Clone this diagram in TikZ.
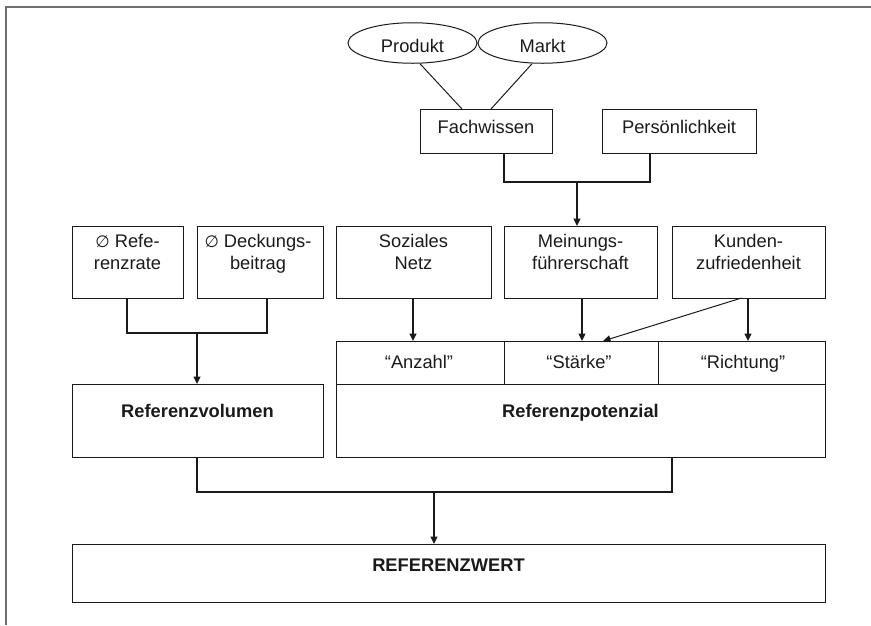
\documentclass[tikz,border=0pt]{standalone}
\usepackage{fontspec}
\setmainfont{Liberation Sans}
\newfontfamily\symfont{DejaVu Sans}
\usetikzlibrary{arrows.meta,shapes.geometric,calc}
\definecolor{framegray}{HTML}{6E6E6E}
\definecolor{ink}{HTML}{1A1A1A}
\newcommand\diagfont{\fontsize{18.3}{22.3}\selectfont}
\newcommand\avg{{\symfont\fontsize{16.5}{22.3}\selectfont ∅}}
\begin{document}
\begin{tikzpicture}[x=1pt,y=-1pt,
  box/.style={draw=ink,line width=1pt,anchor=north west,inner sep=0pt,outer sep=0pt},
  oval/.style={draw=ink,line width=1pt,ellipse,inner sep=0pt,minimum width=129pt,minimum height=40.5pt},
  lab/.style={font=\diagfont,align=center,inner sep=0pt,anchor=base,text=ink},
  labtwo/.style={font=\diagfont,align=center,inner sep=0pt,anchor=north,text=ink,execute at begin node=\strut},
  conn/.style={draw=ink,line width=1.5pt},
  thin/.style={draw=ink,line width=1pt},
  tip/.style={-{Triangle[length=7.5pt,width=7pt]}}]

\useasboundingbox (0,0) rectangle (871,625);

% page frame (top and left edge only)
\draw[framegray,line width=2pt] (6,625) -- (6,7) -- (871,7);

% knowledge sources
\node[oval] (prod) at (412.5,43) {};
\node[oval] (mark) at (542.5,43) {};
\node[lab] (prodt) at (412.5,52.7) {Produkt};
\node[lab] (markt) at (542.5,52.7) {Markt};

\node[box,minimum width=132pt,minimum height=44pt] (fach) at (420,109) {};
\node[box,minimum width=154pt,minimum height=44pt] (pers) at (602,109) {};
\node[lab] (facht) at (486,133.5) {Fachwissen};
\node[lab] (perst) at (679,133.5) {Persönlichkeit};

% determinants
\node[box,minimum width=111pt,minimum height=72pt] (rate) at (72,226) {};
\node[box,minimum width=126pt,minimum height=72pt] (deck) at (197,226) {};
\node[box,minimum width=155pt,minimum height=72pt] (soz) at (336,226) {};
\node[box,minimum width=153pt,minimum height=72pt] (mein) at (504,226) {};
\node[box,minimum width=153pt,minimum height=72pt] (kund) at (672,226) {};
\node[labtwo] (ratet) at (127.5,233.7) {\avg\ Refe-\\renzrate};
\node[labtwo] (deckt) at (258,233.7) {\avg\ Deckungs-\\beitrag};
\node[labtwo] (sozt) at (413.5,233.7) {Soziales\\Netz};
\node[labtwo] (meint) at (580.5,233.7) {Meinungs-\\führerschaft};
\node[labtwo] (kundt) at (748.5,233.7) {Kunden-\\zufriedenheit};

% dimensions of the referral potential
\node[box,minimum width=168pt,minimum height=43pt] (anz) at (336,341) {};
\node[box,minimum width=154pt,minimum height=43pt] (sta) at (504,341) {};
\node[box,minimum width=167pt,minimum height=43pt] (ric) at (658,341) {};
\node[lab] (anzt) at (419,368.3) {“Anzahl”};
\node[lab] (stat) at (579,368.3) {“Stärke”};
\node[lab] (rict) at (743,368.3) {“Richtung”};

% aggregates
\node[box,minimum width=251pt,minimum height=73pt] (vol) at (72,384) {};
\node[box,minimum width=489pt,minimum height=73pt] (pot) at (336,384) {};
\node[lab,font=\diagfont\bfseries] (volt) at (197.5,417.3) {Referenzvolumen};
\node[lab,font=\diagfont\bfseries] (pott) at (580.5,417.3) {Referenzpotenzial};

\node[box,minimum width=753pt,minimum height=58pt] (wert) at (72,544) {};
\node[lab,font=\diagfont\bfseries] (wertt) at (448.5,571.4) {REFERENZWERT};

% connectors
\draw[thin] ($(prod.south)+(7.5,0)$) -- ($(fach.north)+(-24,0)$);
\draw[thin] ($(mark.south)+(-10.5,0)$) -- ($(fach.north)+(5,0)$);

\coordinate (fp) at (577,182);
\draw[conn] ($(fach.south)+(18,0)$) -- ++(0,29) -| ($(pers.south)+(-29,0)$);
\draw[conn,tip] (fp) -- (fp |- mein.north);

\coordinate (rv) at (197,333);
\draw[conn] ($(rate.south)+(-0.5,0)$) -- ++(0,35) -| ($(deck.south)+(7,0)$);
\draw[conn,tip] (rv) -- (rv |- vol.north);

\coordinate (sz) at (413,298);
\draw[conn,tip] (sz) -- (sz |- anz.north);
\draw[conn,tip] ($(mein.south)+(1.5,0)$) -- ($(mein.south |- sta.north)+(1.5,0)$);
\coordinate (kd) at (748,298);
\draw[conn,tip] (kd) -- (kd |- ric.north);
\draw[thin,tip] ($(kund.south)+(-7,0)$) -- ($(sta.north)+(22,0)$);

\coordinate (vp) at (434,492);
\draw[conn] ($(vol.south)+(-0.5,0)$) -- ++(0,35) -| ($(pot.south)+(91.5,0)$);
\draw[conn,tip] (vp) -- (vp |- wert.north);
\end{tikzpicture}
\end{document}
